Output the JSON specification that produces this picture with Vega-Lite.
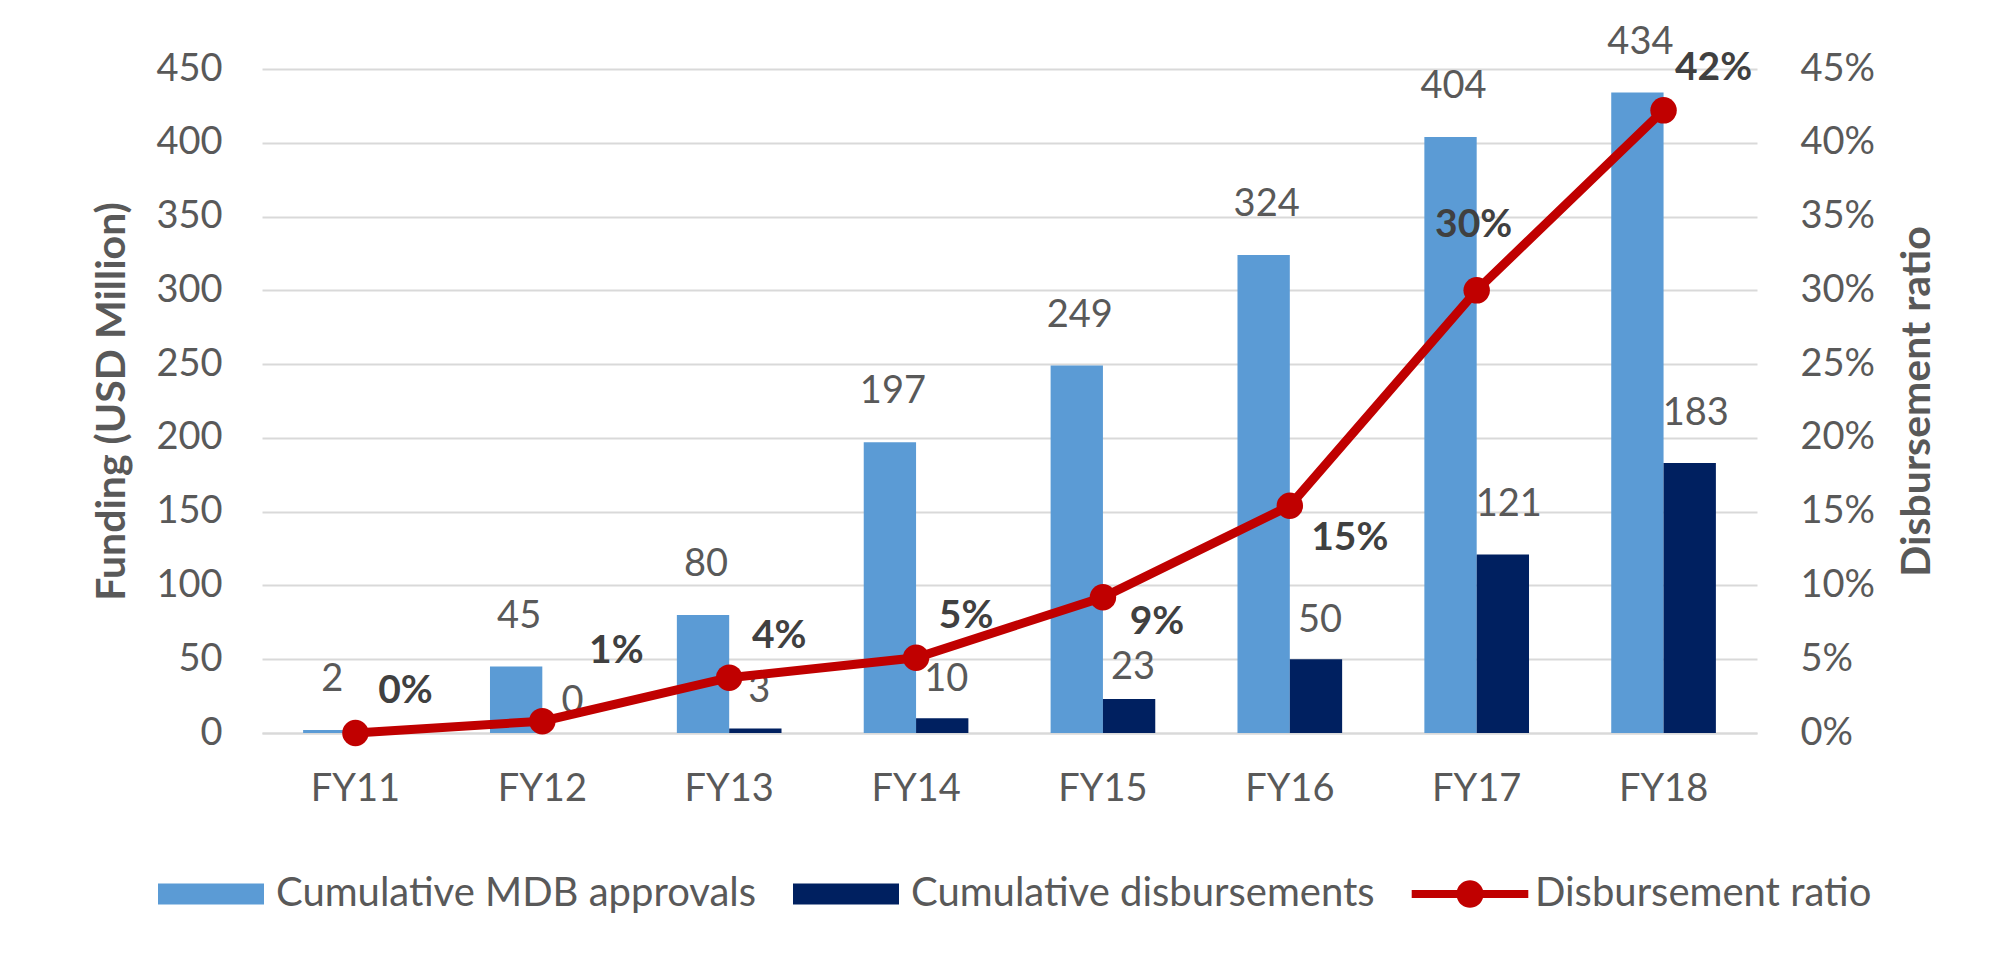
{
  "$schema": "https://vega.github.io/schema/vega-lite/v6.json",
  "width": 1495,
  "height": 664,
  "autosize": {"type": "none"},
  "padding": {"left": 262, "top": 69, "right": 254, "bottom": 231},
  "background": "white",
  "config": {
    "font": "Lato",
    "view": {"stroke": null}
  },
  "datasets": {
    "bars": [
      {"year": "FY11", "series": "Cumulative MDB approvals", "value": 2},
      {"year": "FY12", "series": "Cumulative MDB approvals", "value": 45},
      {"year": "FY12", "series": "Cumulative disbursements", "value": 0},
      {"year": "FY13", "series": "Cumulative MDB approvals", "value": 80},
      {"year": "FY13", "series": "Cumulative disbursements", "value": 3},
      {"year": "FY14", "series": "Cumulative MDB approvals", "value": 197},
      {"year": "FY14", "series": "Cumulative disbursements", "value": 10},
      {"year": "FY15", "series": "Cumulative MDB approvals", "value": 249},
      {"year": "FY15", "series": "Cumulative disbursements", "value": 23},
      {"year": "FY16", "series": "Cumulative MDB approvals", "value": 324},
      {"year": "FY16", "series": "Cumulative disbursements", "value": 50},
      {"year": "FY17", "series": "Cumulative MDB approvals", "value": 404},
      {"year": "FY17", "series": "Cumulative disbursements", "value": 121},
      {"year": "FY18", "series": "Cumulative MDB approvals", "value": 434},
      {"year": "FY18", "series": "Cumulative disbursements", "value": 183}
    ],
    "ratio": [
      {"year": "FY11", "ratio": 0},
      {"year": "FY12", "ratio": 0.008},
      {"year": "FY13", "ratio": 0.0375},
      {"year": "FY14", "ratio": 0.051},
      {"year": "FY15", "ratio": 0.092},
      {"year": "FY16", "ratio": 0.154},
      {"year": "FY17", "ratio": 0.30},
      {"year": "FY18", "ratio": 0.422}
    ]
  },
  "encoding": {
    "x": {
      "field": "year", "type": "nominal", "sort": null,
      "scale": {"paddingInner": 0.44, "paddingOuter": 0.22},
      "axis": {
        "title": null, "labelAngle": 0, "ticks": false,
        "domain": true, "domainColor": "#D9D9D9", "domainWidth": 2,
        "labelFont": "Lato", "labelFontSize": 38, "labelColor": "#595959",
        "labelPadding": 37
      }
    }
  },
  "layer": [
    {
      "data": {"name": "bars"},
      "encoding": {
        "y": {
          "field": "value", "type": "quantitative",
          "scale": {"domain": [0, 450], "nice": false, "zero": true},
          "axis": {
            "title": "Funding (USD Million)",
            "values": [0, 50, 100, 150, 200, 250, 300, 350, 400, 450],
            "grid": true, "gridColor": "#D9D9D9", "gridWidth": 2,
            "domain": false, "ticks": false,
            "labelFont": "Lato", "labelFontSize": 38, "labelColor": "#595959", "labelPadding": 40,
            "titleFont": "Lato", "titleFontSize": 41, "titleFontWeight": "bold", "titleColor": "#595959",
            "titlePadding": 22
          }
        },
        "xOffset": {"field": "series", "type": "nominal", "scale": {"domain": ["Cumulative MDB approvals", "Cumulative disbursements"], "paddingInner": 0}}
      },
      "layer": [
        {
          "mark": {"type": "bar"},
          "encoding": {
            "color": {
              "field": "series", "type": "nominal",
              "scale": {"domain": ["Cumulative MDB approvals", "Cumulative disbursements", "Disbursement ratio"], "range": ["#5B9BD5", "#002060", "#C00000"]},
              "legend": {
                "title": null, "orient": "none", "direction": "horizontal",
                "legendX": -104, "legendY": 772,
                "symbolSize": 11236, "labelOffset": 12, "columnPadding": 36, "labelLimit": 0,
                "labelFont": "Lato", "labelFontSize": 40, "labelColor": "#595959",
                "encode": {
                  "symbols": {
                    "update": {
                      "shape": {"signal": "datum.value === 'Disbursement ratio' ? 'M-1.1,-0.075L-0.245,-0.075A0.255,0.255 0 0,1 0.245,-0.075L1.1,-0.075L1.1,0.075L0.245,0.075A0.255,0.255 0 0,1 -0.245,0.075L-1.1,0.075Z' : 'M-1,-0.2L1,-0.2L1,0.2L-1,0.2Z'"},
                      "fill": {"scale": "color", "field": "value"},
                      "stroke": {"value": "transparent"},
                      "strokeWidth": {"value": 0},
                      "opacity": {"value": 1}
                    }
                  }
                }
              }
            }
          }
        },
        {
          "transform": [{"filter": "datum.series === 'Cumulative MDB approvals'"}],
          "mark": {"type": "text", "baseline": "middle", "dy": -50, "dx": 3, "font": "Lato", "fontSize": 38, "color": "#595959"},
          "encoding": {"text": {"field": "value", "type": "quantitative"}}
        },
        {
          "transform": [{"filter": "datum.series === 'Cumulative disbursements' && (datum.year === 'FY12' || datum.year === 'FY15')"}],
          "mark": {"type": "text", "baseline": "middle", "dy": -31, "dx": 4, "font": "Lato", "fontSize": 38, "color": "#595959"},
          "encoding": {"text": {"field": "value", "type": "quantitative"}}
        },
        {
          "transform": [{"filter": "datum.series === 'Cumulative disbursements' && (datum.year === 'FY13' || datum.year === 'FY14' || datum.year === 'FY16')"}],
          "mark": {"type": "text", "baseline": "middle", "dy": -38, "dx": 4, "font": "Lato", "fontSize": 38, "color": "#595959"},
          "encoding": {"text": {"field": "value", "type": "quantitative"}}
        },
        {
          "transform": [{"filter": "datum.series === 'Cumulative disbursements' && (datum.year === 'FY17' || datum.year === 'FY18')"}],
          "mark": {"type": "text", "baseline": "middle", "dy": -49, "dx": 6, "font": "Lato", "fontSize": 38, "color": "#595959"},
          "encoding": {"text": {"field": "value", "type": "quantitative"}}
        }
      ]
    },
    {
      "data": {"name": "ratio"},
      "encoding": {
        "y": {
          "field": "ratio", "type": "quantitative",
          "scale": {"domain": [0, 0.45], "nice": false, "zero": true},
          "axis": {
            "orient": "right",
            "title": "Disbursement ratio",
            "values": [0, 0.05, 0.1, 0.15, 0.2, 0.25, 0.3, 0.35, 0.4, 0.45],
            "format": ".0%",
            "grid": false, "domain": false, "ticks": false,
            "labelFont": "Lato", "labelFontSize": 38, "labelColor": "#595959", "labelPadding": 43,
            "titleFont": "Lato", "titleFontSize": 41, "titleFontWeight": "bold", "titleColor": "#595959",
            "titleAngle": 270, "titlePadding": 64
          }
        }
      },
      "layer": [
        {
          "mark": {"type": "line", "strokeWidth": 9},
          "encoding": {
            "color": {"datum": "Disbursement ratio", "type": "nominal",
              "scale": {"domain": ["Cumulative MDB approvals", "Cumulative disbursements", "Disbursement ratio"], "range": ["#5B9BD5", "#002060", "#C00000"]}}
          }
        },
        {
          "mark": {"type": "point", "filled": true, "size": 700, "opacity": 1},
          "encoding": {
            "color": {"datum": "Disbursement ratio", "type": "nominal"}
          }
        },
        {
          "transform": [{"filter": "indexof(['FY11','FY13','FY14','FY18'], datum.year) >= 0"}],
          "mark": {"type": "text", "baseline": "middle", "dx": 50, "dy": -42, "font": "Lato", "fontSize": 39, "fontWeight": "bold", "color": "#404040"},
          "encoding": {"text": {"field": "ratio", "type": "quantitative", "format": ".0%"}}
        },
        {
          "transform": [{"filter": "datum.year === 'FY12'"}],
          "mark": {"type": "text", "baseline": "middle", "dx": 74, "dy": -70, "font": "Lato", "fontSize": 39, "fontWeight": "bold", "color": "#404040"},
          "encoding": {"text": {"field": "ratio", "type": "quantitative", "format": ".0%"}}
        },
        {
          "transform": [{"filter": "datum.year === 'FY15'"}],
          "mark": {"type": "text", "baseline": "middle", "dx": 54, "dy": 25, "font": "Lato", "fontSize": 39, "fontWeight": "bold", "color": "#404040"},
          "encoding": {"text": {"field": "ratio", "type": "quantitative", "format": ".0%"}}
        },
        {
          "transform": [{"filter": "datum.year === 'FY16'"}],
          "mark": {"type": "text", "baseline": "middle", "dx": 60, "dy": 32, "font": "Lato", "fontSize": 39, "fontWeight": "bold", "color": "#404040"},
          "encoding": {"text": {"field": "ratio", "type": "quantitative", "format": ".0%"}}
        },
        {
          "transform": [{"filter": "datum.year === 'FY17'"}],
          "mark": {"type": "text", "baseline": "middle", "dx": -3, "dy": -65, "font": "Lato", "fontSize": 39, "fontWeight": "bold", "color": "#404040"},
          "encoding": {"text": {"field": "ratio", "type": "quantitative", "format": ".0%"}}
        }
      ]
    }
  ],
  "resolve": {"scale": {"y": "independent"}}
}
